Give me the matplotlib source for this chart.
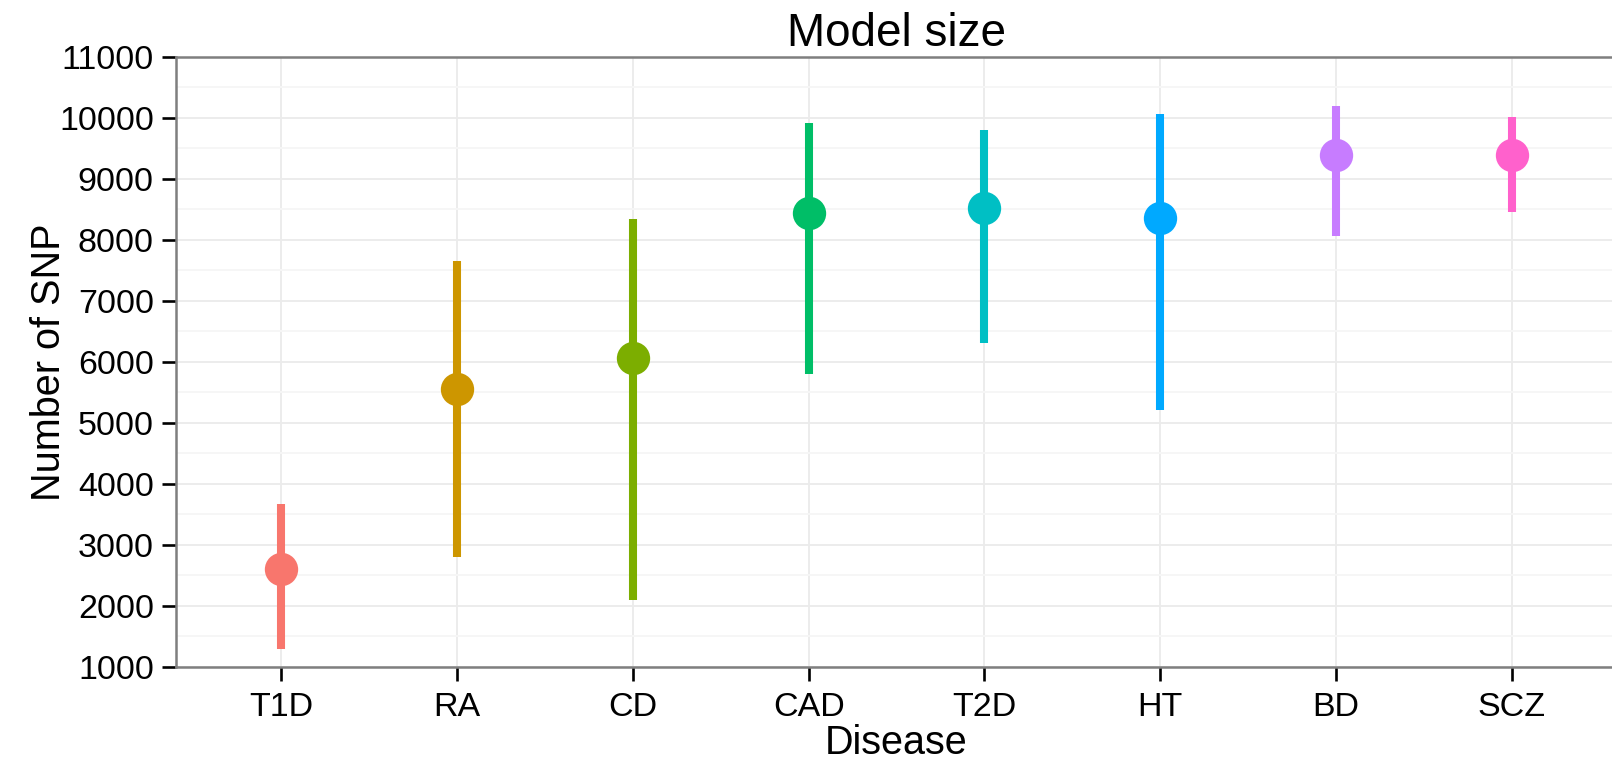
"""plot.py - model size per disease"""

import matplotlib
matplotlib.use("Agg")
import matplotlib.pyplot as plt
from matplotlib.ticker import MultipleLocator

plt.rcParams['font.family'] = ['Liberation Sans', 'DejaVu Sans']

diseases = ['T1D', 'RA', 'CD', 'CAD', 'T2D', 'HT', 'BD', 'SCZ']
median_snp = [2600, 5550, 6070, 8450, 8530, 8360, 9400, 9400]
low_snp = [1290, 2800, 2100, 5800, 6310, 5210, 8060, 8460]
high_snp = [3670, 7650, 8340, 9910, 9800, 10060, 10200, 10010]
colors = ['#F8766D', '#CD9600', '#7CAE00', '#00BE67',
          '#00BFC4', '#00A9FF', '#C77CFF', '#FF61CC']

fig = plt.figure(figsize=(16.12, 7.6), dpi=100)
ax = fig.add_axes([0.1092, 0.1224, 0.894, 0.8026])

xs = list(range(1, len(diseases) + 1))
for x, lo, hi, med, c in zip(xs, low_snp, high_snp, median_snp, colors):
    ax.vlines(x, lo, hi, color=c, linewidth=5.8, zorder=3)
    ax.plot(x, med, 'o', color=c, markersize=24, markeredgewidth=0, zorder=4)

ax.set_xlim(0.4, 8.6)
ax.set_ylim(1000, 11000)
ax.set_xticks(xs)
ax.set_xticklabels(diseases)
ax.yaxis.set_major_locator(MultipleLocator(1000))
ax.yaxis.set_minor_locator(MultipleLocator(500))

ax.grid(True, which='major', color='#EBEBEB', linewidth=1.3, zorder=0)
ax.grid(True, which='minor', axis='y', color='#F6F6F6', linewidth=1.3, zorder=0)
ax.set_axisbelow(True)

for side in ['top', 'left', 'bottom', 'right']:
    ax.spines[side].set_color('#7F7F7F')
    ax.spines[side].set_linewidth(1.8)

ax.tick_params(which='major', direction='out', length=10, width=1.9,
               color='black', labelsize=24.5)
ax.tick_params(axis='x', pad=8)
ax.tick_params(axis='y', pad=6)
ax.tick_params(which='minor', length=0)

ax.set_title('Model size', fontsize=33, pad=8)
ax.set_xlabel('Disease', fontsize=28.5, labelpad=1)
ax.set_ylabel('Number of SNP', fontsize=28.5, labelpad=-6.5)

fig.savefig('out.png', dpi=100)
